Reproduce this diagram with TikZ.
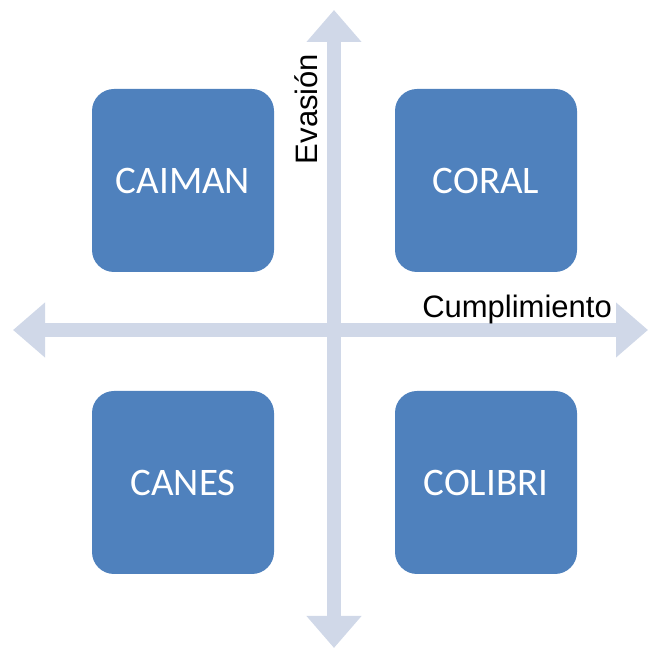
\documentclass[tikz,border=0pt]{standalone}
\usepackage{fontspec}
\setmainfont{Liberation Sans}
\newfontfamily\boxfont{Carlito}
\usetikzlibrary{arrows.meta}
\definecolor{axiscol}{RGB}{208,216,232}
\definecolor{boxcol}{RGB}{79,129,189}
\tikzset{
  axisline/.style={draw=axiscol, line width=14pt, {Triangle[width=53pt,length=32pt]}-{Triangle[width=53pt,length=32pt]}},
  quad/.style={fill=boxcol, draw=none, rounded corners=22pt, minimum width=182pt, minimum height=183pt, inner sep=0pt, text=white, font=\boxfont\fontsize{39}{44}\selectfont},
  axislabel/.style={inner sep=0pt, text=black, font=\fontsize{31}{36}\selectfont}
}
\begin{document}
\begin{tikzpicture}[x=1pt,y=1pt]
\useasboundingbox (0,0) rectangle (648,650);
% axes
\coordinate (L) at (13,320);
\coordinate (R) at (648,320);
\coordinate (T) at (334,640);
\coordinate (B) at (334,2);
\draw[axisline] (L) -- (R);
\draw[axisline] (B) -- (T);
% boxes
\node[quad] (caiman) at (183,469.5) {CAIMAN};
\node[quad] (coral) at (486,469.5) {CORAL};
\node[quad] (canes) at (183,167.5) {CANES};
\node[quad] (colibri) at (486,167.5) {COLIBRI};
% labels
\node[axislabel, rotate=90, anchor=base] (eva) at (317,541) {Evasión};
\node[axislabel, anchor=base east] (cum) at (612,332) {Cumplimiento};
\end{tikzpicture}
\end{document}
